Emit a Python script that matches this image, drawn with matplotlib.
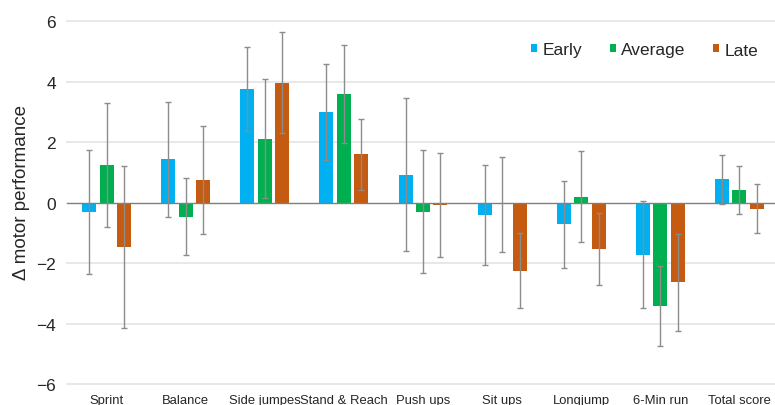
import numpy as np
import matplotlib
matplotlib.use("Agg")
import matplotlib.pyplot as plt

plt.rcParams['font.family'] = ['Liberation Sans', 'DejaVu Sans']

# values
cats = ["Sprint", "Balance", "Side jumpes", "Stand & Reach", "Push ups",
        "Sit ups", "Longjump", "6-Min run", "Total score"]
early = [-0.30, 1.43, 3.77, 3.00, 0.92, -0.42, -0.72, -1.72, 0.77]
early_sd = [2.05, 1.90, 1.39, 1.60, 2.53, 1.65, 1.43, 1.77, 0.80]
average = [1.25, -0.46, 2.12, 3.60, -0.30, -0.05, 0.20, -3.42, 0.41]
average_sd = [2.05, 1.28, 1.97, 1.63, 2.04, 1.57, 1.50, 1.33, 0.80]
late = [-1.48, 0.75, 3.96, 1.60, -0.08, -2.25, -1.53, -2.64, -0.20]
late_sd = [2.68, 1.79, 1.67, 1.18, 1.71, 1.24, 1.19, 1.61, 0.81]
yticks = [-6, -4, -2, 0, 2, 4, 6]

colors = ["#00B0F0", "#00B050", "#C55A11"]
names = ["Early", "Average", "Late"]

fig = plt.figure(figsize=(7.75, 4.06), dpi=100)
ax = fig.add_axes([67/775, 1-385/406, 712/775, (385-22.3)/406])

x = np.arange(len(cats))
w = 0.177
off = 0.221
bars = []
for i, (vals, sd) in enumerate([(early, early_sd), (average, average_sd), (late, late_sd)]):
    b = ax.bar(x + (i-1)*off, vals, w, color=colors[i], zorder=2, label=names[i])
    ax.errorbar(x + (i-1)*off, vals, yerr=sd, fmt='none', ecolor='#8c8c8c',
                elinewidth=1, capsize=2, capthick=1, zorder=3)
    bars.append(b)

for t in yticks:
    if t == 0:
        ax.axhline(0, color='#7f7f7f', lw=1, zorder=2.5, clip_on=False)
    else:
        ax.axhline(t, color='#e6e6e6', lw=1.3, zorder=0, clip_on=False)

ax.set_xlim(-0.5, len(cats)-0.5)
ax.set_ylim(-6, 6)
ax.set_yticks(yticks)
ax.set_yticklabels([str(t).replace('-', '\u2212') for t in yticks], fontsize=12.5, color='#262626')
ax.set_xticks(x)
ax.set_xticklabels(cats, fontsize=9.4, color='#262626')
ax.tick_params(axis='both', length=0)
ax.tick_params(axis='y', pad=8)
ax.tick_params(axis='x', pad=7.5)
for s in ax.spines.values():
    s.set_visible(False)

ax.set_ylabel("\u0394 motor performance", fontsize=13.5, color='#262626')
ax.yaxis.set_label_coords(-0.052, 0.53)

leg = ax.legend(handles=bars, loc='center left', bbox_to_anchor=(531/775, 1-51/406),
                bbox_transform=fig.transFigure, ncol=3, frameon=False, fontsize=12.5,
                handlelength=0.35, handleheight=0.35, handletextpad=0.3,
                columnspacing=1.6, borderpad=0, borderaxespad=0)
for t in leg.get_texts():
    t.set_color('#262626')

fig.savefig("out.png", dpi=100)
